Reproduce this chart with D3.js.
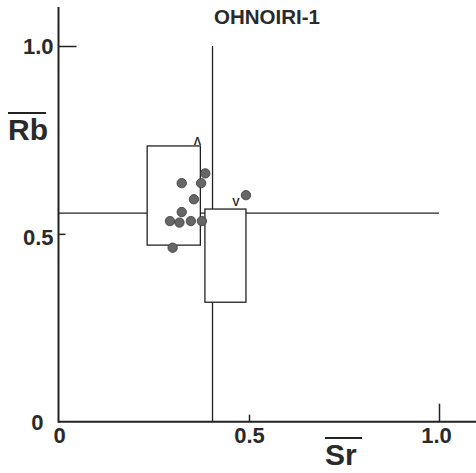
<!DOCTYPE html>
<html>
<head>
<meta charset="utf-8">
<script src="https://cdn.jsdelivr.net/npm/d3@7"></script>
<style>
  html, body { margin: 0; padding: 0; background: #fff; }
  svg { display: block; }
  text { font-family: "Liberation Sans", Arial, sans-serif; fill: #2a2a2a; }
</style>
</head>
<body>
<svg id="chart" width="476" height="473"></svg>
<script>
// Sample points (Sr-bar, Rb-bar)
const srValues = [0.385, 0.323, 0.374, 0.355, 0.323, 0.292, 0.317, 0.347, 0.376, 0.299, 0.492];
const rbValues = [0.661, 0.635, 0.635, 0.592, 0.558, 0.534, 0.530, 0.534, 0.534, 0.463, 0.603];

// Range boxes: Sr span, Rb span and their direction markers
const boxNames   = ["A", "B"];
const boxSr      = [[0.232, 0.372], [0.384, 0.492]];
const boxRb      = [[0.470, 0.734], [0.318, 0.566]];
const boxMarkers = ["Λ", "V"];

// Reference cross-hair lines
const refSr = 0.404;
const refRb = 0.555;

// Axis ticks
const xTicks = [0, 0.5, 1.0];
const yTicks = [0, 0.5, 1.0];
const xTickLabels = ["0", "0.5", "1.0"];
const yTickLabels = ["0", "0.5", "1.0"];

const title = "OHNOIRI-1";

const svg = d3.select("#chart");
const x = d3.scaleLinear().domain([0, 1]).range([59, 439]);
const y = d3.scaleLinear().domain([0, 1]).range([421.7, 46]);
const ink = "#222";
const labelFont = "Liberation Sans, Arial, sans-serif";

// reference lines
svg.append("line")
  .attr("x1", x(refSr)).attr("x2", x(refSr))
  .attr("y1", y(0)).attr("y2", y(1.0))
  .attr("stroke", ink).attr("stroke-width", 1.3);
svg.append("line")
  .attr("x1", x(0)).attr("x2", x(1.0))
  .attr("y1", y(refRb)).attr("y2", y(refRb))
  .attr("stroke", ink).attr("stroke-width", 1.3);

// range boxes
const boxes = boxNames.map((n, i) => ({ name: n, sr: boxSr[i], rb: boxRb[i], mark: boxMarkers[i] }));
svg.selectAll("rect.box").data(boxes).join("rect")
  .attr("class", "box")
  .attr("x", d => x(d.sr[0]))
  .attr("y", d => y(d.rb[1]))
  .attr("width", d => x(d.sr[1]) - x(d.sr[0]))
  .attr("height", d => y(d.rb[0]) - y(d.rb[1]))
  .attr("fill", "#fff").attr("stroke", ink).attr("stroke-width", 1.3);

// direction markers at top-right of each box
svg.selectAll("text.mark").data(boxes).join("text")
  .attr("class", "mark")
  .attr("x", (d, i) => i === 0 ? x(d.sr[1]) - 3 : x(d.sr[1]) - 10)
  .attr("y", (d, i) => y(d.rb[1]) - (i === 0 ? 1 : 3))
  .attr("text-anchor", "middle")
  .attr("font-size", 11)
  .attr("font-weight", "bold")
  .text(d => d.mark);

// axes
const xAxis = d3.axisBottom(x).tickValues(xTicks).tickSize(0).tickPadding(0)
  .tickFormat((d, i) => xTickLabels[i]);
const gx = svg.append("g").attr("transform", `translate(0,${y(0)})`).call(xAxis);
gx.select(".domain").remove();
gx.append("line").attr("x1", x(0) - 0.5).attr("x2", 476).attr("y1", 0).attr("y2", 0)
  .attr("stroke", ink).attr("stroke-width", 2);
gx.selectAll(".tick line")
  .attr("y2", d => d === 0 ? 0 : (d === 1 ? -18 : -7))
  .attr("stroke", ink).attr("stroke-width", 1.5);
gx.selectAll(".tick text")
  .attr("y", 21).attr("dy", 0)
  .attr("dx", d => d === 1 ? -3 : 0)
  .attr("font-size", 22).attr("font-weight", "bold").attr("fill", "#333")
  .style("font-family", labelFont);

const yAxis = d3.axisLeft(y).tickValues(yTicks).tickSize(0).tickPadding(0)
  .tickFormat((d, i) => yTickLabels[i]);
const gy = svg.append("g").attr("transform", `translate(${x(0) - 0.5},0)`).call(yAxis);
gy.select(".domain").remove();
gy.append("line").attr("x1", 0).attr("x2", 0).attr("y1", 7).attr("y2", y(0) + 1)
  .attr("stroke", ink).attr("stroke-width", 2);
gy.selectAll(".tick line")
  .attr("x2", d => d === 0 ? 0 : (d === 1 ? 18 : 7))
  .attr("stroke", ink).attr("stroke-width", 1.5);
gy.selectAll(".tick text")
  .attr("x", d => d === 0 ? -15 : -5)
  .attr("dy", d => d === 0 ? "0.36em" : (d === 0.5 ? "0.5em" : "0.36em"))
  .attr("font-size", 22).attr("font-weight", "bold").attr("fill", "#333")
  .style("font-family", labelFont);

// axis titles with overbars
function barLabel(tx, ty, str, w) {
  svg.append("text").attr("x", tx).attr("y", ty)
    .attr("font-size", 30).attr("font-weight", "bold").text(str);
  svg.append("line").attr("x1", tx).attr("x2", tx + w)
    .attr("y1", ty - 27).attr("y2", ty - 27)
    .attr("stroke", ink).attr("stroke-width", 2);
}
barLabel(8, 140, "Rb", 38);
barLabel(325, 465, "Sr", 37);

// title
svg.append("text").attr("x", 267).attr("y", 24)
  .attr("text-anchor", "middle").attr("font-size", 20.5)
  .attr("font-weight", "bold").attr("fill", "#333").text(title);

// sample points
svg.selectAll("circle.pt").data(srValues.map((s, i) => [s, rbValues[i]])).join("circle")
  .attr("class", "pt")
  .attr("cx", d => x(d[0])).attr("cy", d => y(d[1]))
  .attr("r", 4.7)
  .attr("fill", "#666").attr("stroke", "#3a3a3a").attr("stroke-width", 0.8);
</script>
</body>
</html>
